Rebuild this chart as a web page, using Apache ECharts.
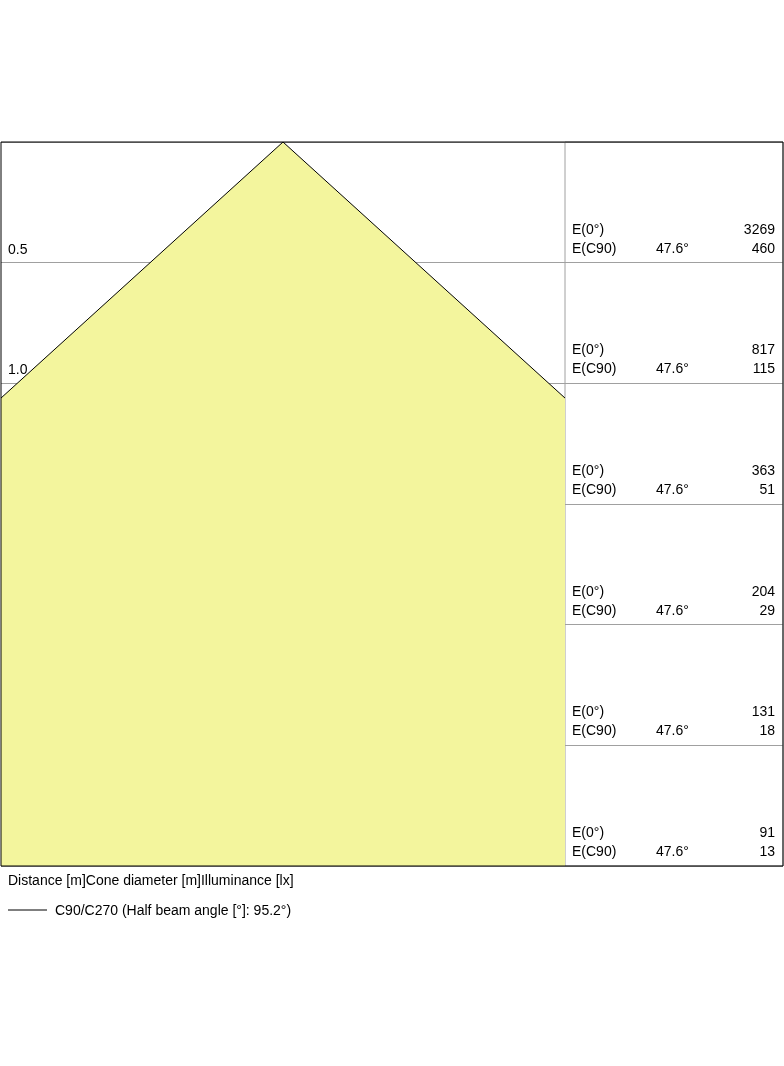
<!DOCTYPE html>
<html>
<head>
<meta charset="utf-8">
<script src="https://cdn.jsdelivr.net/npm/echarts@6/dist/echarts.min.js"></script>
<style>html,body{margin:0;padding:0;background:#fff}#chart{width:784px;height:1066px}</style>
</head>
<body>
<div id="chart"></div>
<script>
// distance rows [m], cone diameter [m], illuminance [lx]
const distances = ['0.5', '1.0', '1.5', '2.0', '2.5', '3.0'];
const diameters = ['1.10', '2.19', '3.29', '4.38', '5.48', '6.57'];
const eCenter = [3269, 817, 363, 204, 131, 91];
const eC90 = [460, 115, 51, 29, 18, 13];
const halfAngle = '47.6°';
const beamAngle = '95.2°';
// cone outline (x = half diameter offset in m, y = distance in m)
const coneEdge = 1.162;
const coneKnee = 1.061;
const maxDist = 3;

const chart = echarts.init(document.getElementById('chart'));
const font = 'Liberation Sans, Arial, sans-serif';
const plotTop = 142, plotBottom = 866, rowH = (plotBottom - plotTop) / 6;

const texts = [];
distances.forEach((d, i) => {
  const yb = plotTop + rowH * (i + 1);
  texts.push({ type: 'text', x: 8, y: yb - 20, style: { text: d, font: '14px ' + font, fill: '#000' } });
  texts.push({ type: 'text', x: 283, y: yb - 24, style: { text: diameters[i], font: '14px ' + font, fill: '#000', textAlign: 'center' } });
  texts.push({ type: 'text', x: 572, y: yb - 40, style: { text: 'E(0°)', font: '14px ' + font, fill: '#000' } });
  texts.push({ type: 'text', x: 572, y: yb - 21, style: { text: 'E(C90)', font: '14px ' + font, fill: '#000' } });
  texts.push({ type: 'text', x: 656, y: yb - 21, style: { text: halfAngle, font: '14px ' + font, fill: '#000' } });
  texts.push({ type: 'text', x: 775, y: yb - 40, style: { text: String(eCenter[i]), font: '14px ' + font, fill: '#000', textAlign: 'right' } });
  texts.push({ type: 'text', x: 775, y: yb - 21, style: { text: String(eC90[i]), font: '14px ' + font, fill: '#000', textAlign: 'right' } });
});
texts.push({ type: 'text', x: 8, y: 874, style: { text: 'Distance [m]Cone diameter [m]Illuminance [lx]', font: '14px ' + font, fill: '#000' } });
texts.push({ type: 'line', shape: { x1: 8, y1: 910, x2: 47, y2: 910 }, style: { stroke: '#000', lineWidth: 1 } });
texts.push({ type: 'text', x: 55, y: 904, style: { text: 'C90/C270 (Half beam angle [°]: ' + beamAngle + ')', font: '14px ' + font, fill: '#000' } });
texts.push({ type: 'rect', shape: { x: 1, y: plotTop, width: 782, height: plotBottom - plotTop }, style: { fill: 'none', stroke: '#000', lineWidth: 1 }, z: 100 });

const yAx = (gi) => ({
  type: 'value', gridIndex: gi, min: 0, max: maxDist, interval: 0.5, inverse: true,
  axisLabel: { show: false }, axisTick: { show: false }, axisLine: { show: false },
  splitLine: { show: true, lineStyle: { color: '#a0a0a0', width: 1 } }
});

chart.setOption({
  animation: false,
  grid: [
    { left: 1, top: plotTop, width: 564, height: plotBottom - plotTop },
    { left: 565, top: plotTop, width: 218, height: plotBottom - plotTop, show: true, borderColor: '#a0a0a0', borderWidth: 1 }
  ],
  xAxis: [
    { type: 'value', gridIndex: 0, min: -coneEdge, max: coneEdge, show: false },
    { type: 'value', gridIndex: 1, min: 0, max: 1, show: false }
  ],
  yAxis: [yAx(0), yAx(1)],
  series: [
    {
      type: 'line', xAxisIndex: 0, yAxisIndex: 0, symbol: 'none', z: 1,
      lineStyle: { width: 0 },
      areaStyle: { color: '#f3f59d', opacity: 1, origin: 'end' },
      data: [[-coneEdge, maxDist], [-coneEdge, coneKnee], [0, 0], [coneEdge, coneKnee], [coneEdge, maxDist]]
    },
    {
      type: 'line', xAxisIndex: 0, yAxisIndex: 0, symbol: 'none', z: 3,
      lineStyle: { color: '#000', width: 1 },
      data: [[-coneEdge, coneKnee], [0, 0], [coneEdge, coneKnee]]
    }
  ],
  graphic: texts
});
</script>
</body>
</html>
